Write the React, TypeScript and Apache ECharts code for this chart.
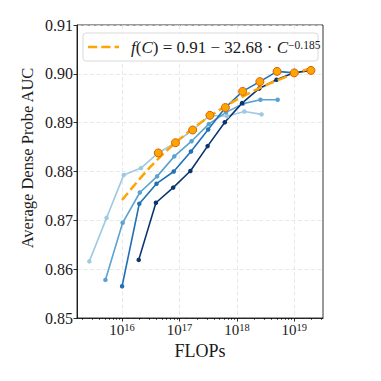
import React, { useEffect, useRef } from 'react';
import * as echarts from 'echarts';

// x values are log10(FLOPs); y values are Average Dense Probe AUC
const S1_LOGFLOPS = [15.43, 15.73, 16.03, 16.33, 16.63, 16.93, 17.23, 17.53, 17.83, 18.13, 18.43];
const S1_AUC = [0.8616, 0.8705, 0.8793, 0.8807, 0.8838, 0.8859, 0.8885, 0.8915, 0.8913, 0.8923, 0.8917];
const S2_LOGFLOPS = [15.71, 16.01, 16.31, 16.61, 16.91, 17.21, 17.51, 17.81, 18.11, 18.41, 18.71];
const S2_AUC = [0.8578, 0.8695, 0.8757, 0.879, 0.8831, 0.8862, 0.8897, 0.8921, 0.8939, 0.8947, 0.8947];
const S3_LOGFLOPS = [16.0, 16.3, 16.6, 16.9, 17.2, 17.5, 17.8, 18.1, 18.4, 18.7, 19.0];
const S3_AUC = [0.8565, 0.8734, 0.8775, 0.88, 0.8841, 0.8886, 0.8931, 0.8964, 0.8984, 0.9005, 0.9002];
const S4_LOGFLOPS = [16.29, 16.59, 16.89, 17.19, 17.49, 17.79, 18.09, 18.39, 18.69, 18.99, 19.29];
const S4_AUC = [0.8619, 0.8736, 0.8767, 0.8801, 0.8852, 0.8901, 0.894, 0.897, 0.8988, 0.9002, 0.9007];
const FRONTIER_LOGFLOPS = [16.63, 16.93, 17.23, 17.53, 17.8, 18.1, 18.4, 18.7, 19.0, 19.29];
const FRONTIER_AUC = [0.8838, 0.8859, 0.8885, 0.8915, 0.8931, 0.8964, 0.8984, 0.9005, 0.9002, 0.9007];
const FIT_LOGFLOPS = [16.0, 16.5, 17.0, 17.5, 18.0, 18.5, 19.0, 19.3];
const FIT_AUC = [0.87417, 0.88104, 0.8866, 0.89109, 0.89471, 0.89765, 0.90002, 0.90121];

const X_MAJOR_TICKS = [16, 17, 18, 19];
const X_MINOR_MANTISSAS = [2, 3, 4, 5, 6, 7, 8, 9];
const X_DECADES = [15, 16, 17, 18, 19];
const X_MIN = 15.215;
const X_MAX = 19.5;

const FONT = '"Liberation Serif", "DejaVu Serif", serif';
const TEXT = '#1a1a1a';

export default function App() {
  const ref = useRef<HTMLDivElement>(null);
  useEffect(() => {
    document.body.style.margin = '0';
    const chart = echarts.init(ref.current!, undefined, { renderer: 'svg' });
    const pair = (xs: number[], ys: number[]) => xs.map((x, i) => [x, ys[i]]);
    const minorTicks: number[] = [];
    X_DECADES.forEach((d) =>
      X_MINOR_MANTISSAS.forEach((m) => {
        const v = d + Math.log10(m);
        if (v > X_MIN && v < X_MAX) minorTicks.push(v);
      })
    );
    const blue = (name: string, color: string, xs: number[], ys: number[]) => ({
      type: 'line',
      name,
      data: pair(xs, ys),
      symbol: 'circle',
      symbolSize: 4.5,
      showSymbol: true,
      lineStyle: { color, width: 1.6 },
      itemStyle: { color },
      z: 2,
    });
    chart.setOption({
      animation: false,
      grid: {
        left: 77,
        right: 58,
        top: 25,
        bottom: 63,
        show: true,
        borderColor: '#000',
        borderWidth: 0.8,
        containLabel: false,
      },
      xAxis: [
        {
          type: 'value',
          min: X_MIN,
          max: X_MAX,
          axisLine: { show: true, lineStyle: { color: '#000', width: 0.8 } },
          axisTick: { show: true, customValues: X_MAJOR_TICKS, length: 3.5, lineStyle: { color: '#000', width: 0.8 } },
          axisLabel: {
            customValues: X_MAJOR_TICKS,
            margin: 4,
            formatter: (v: number) => `{b|10}{s|${Math.round(v)}}`,
            rich: {
              b: { fontFamily: FONT, fontSize: 15, lineHeight: 16, color: TEXT },
              s: { fontFamily: FONT, fontSize: 10.5, lineHeight: 5, verticalAlign: 'top', color: TEXT },
            },
          },
          splitLine: { show: true, lineStyle: { color: '#e2e2e2', type: [4, 2.5], width: 0.8 } },
          name: 'FLOPs',
          nameLocation: 'middle',
          nameGap: 22,
          nameTextStyle: { fontFamily: FONT, fontSize: 18, color: TEXT },
        },
        {
          type: 'value',
          min: X_MIN,
          max: X_MAX,
          position: 'bottom',
          axisLine: { show: false },
          axisTick: { show: true, customValues: minorTicks, length: 2, lineStyle: { color: '#000', width: 0.6 } },
          axisLabel: { show: false },
          splitLine: { show: false },
        },
      ],
      yAxis: {
        type: 'value',
        min: 0.85,
        max: 0.91,
        interval: 0.01,
        axisLine: { show: true, lineStyle: { color: '#000', width: 0.8 } },
        axisTick: { show: true, length: 3.5, lineStyle: { color: '#000', width: 0.8 } },
        axisLabel: {
          margin: 4,
          fontFamily: FONT,
          fontSize: 16,
          color: TEXT,
          formatter: (v: number) => v.toFixed(2),
        },
        splitLine: { show: true, lineStyle: { color: '#e2e2e2', type: [4, 2.5], width: 0.8 } },
      },
      graphic: [
        {
          type: 'text',
          x: 27,
          y: 158,
          rotation: Math.PI / 2,
          style: {
            text: 'Average Dense Probe AUC',
            fontFamily: FONT,
            fontSize: 16.5,
            fill: TEXT,
            align: 'center',
            verticalAlign: 'middle',
          },
        },
        {
          type: 'rect',
          shape: { x: 83, y: 33, width: 235, height: 28, r: 3 },
          style: { fill: 'rgba(255,255,255,0.85)', stroke: '#d0d0d0', lineWidth: 0.8 },
          z: 10,
        },
        {
          type: 'line',
          shape: { x1: 88, y1: 47, x2: 119, y2: 47 },
          style: { stroke: '#ffa500', lineWidth: 2.5, lineDash: [9.25, 4] },
          z: 11,
        },
        {
          type: 'text',
          x: 131,
          y: 47.5,
          style: {
            text: '{i|f}{r|(}{i|C}{r|) = 0.91 − 32.68 · }{i|C}{s|−0.185}',
            verticalAlign: 'middle',
            rich: {
              i: { fontFamily: FONT, fontStyle: 'italic', fontSize: 17, lineHeight: 18, fill: TEXT },
              r: { fontFamily: FONT, fontSize: 17, lineHeight: 18, fill: TEXT },
              s: { fontFamily: FONT, fontSize: 11.5, lineHeight: 8, verticalAlign: 'top', fill: TEXT },
            },
          },
          z: 11,
        },
      ],
      series: [
        blue('s1', '#9ecae1', S1_LOGFLOPS, S1_AUC),
        blue('s2', '#5aa2d0', S2_LOGFLOPS, S2_AUC),
        blue('s3', '#2171b5', S3_LOGFLOPS, S3_AUC),
        blue('s4', '#0c3570', S4_LOGFLOPS, S4_AUC),
        {
          type: 'line',
          name: 'fit',
          data: pair(FIT_LOGFLOPS, FIT_AUC),
          symbol: 'none',
          smooth: 0.3,
          lineStyle: { color: '#ffa500', width: 2.5, type: [9.25, 4] },
          z: 4,
        },
        {
          type: 'scatter',
          name: 'frontier',
          data: pair(FRONTIER_LOGFLOPS, FRONTIER_AUC),
          symbol: 'circle',
          symbolSize: 8,
          itemStyle: { color: '#ffa500', borderColor: '#d9600b', borderWidth: 1, opacity: 1 },
          z: 5,
        },
      ],
    });
    return () => chart.dispose();
  }, []);
  return <div ref={ref} style={{ width: 381, height: 381 }} />;
}
